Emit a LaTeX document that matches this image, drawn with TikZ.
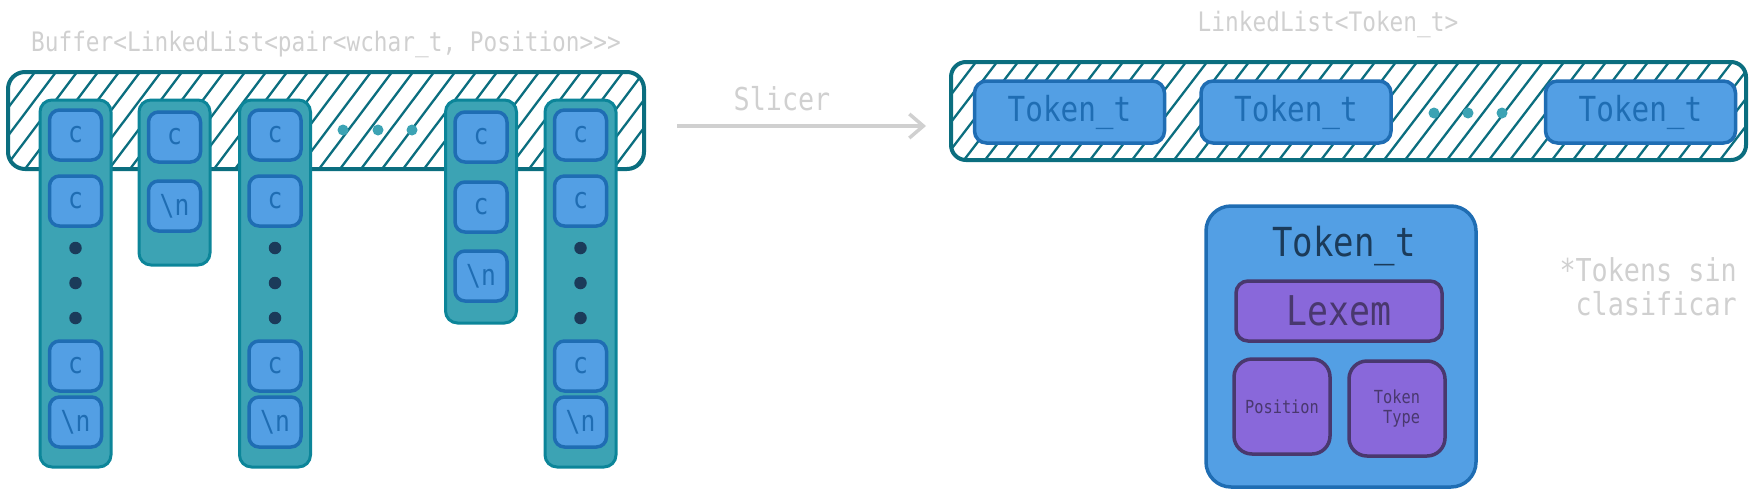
\documentclass[tikz,border=0pt]{standalone}
\usepackage{fontspec}
\newfontfamily\mono[FakeStretch=0.85]{DejaVu Sans Mono}
\usetikzlibrary{arrows.meta}
\definecolor{hatchc}{HTML}{0B6E7F}
\definecolor{colstroke}{HTML}{0C8599}
\definecolor{colfill}{HTML}{3CA3B4}
\definecolor{bfill}{HTML}{539FE4}
\definecolor{bstroke}{HTML}{1F6DB3}
\definecolor{grayt}{HTML}{D0D0D0}
\definecolor{navy}{HTML}{1B3B5A}
\definecolor{pfill}{HTML}{8968DA}
\definecolor{pstroke}{HTML}{49386E}
\newcommand{\fs}[1]{\mono\fontsize{#1}{#1}\selectfont}
\tikzset{
  hatchline/.style={draw=hatchc, line width=2.3pt},
  listbox/.style={draw=hatchc, line width=4pt, rounded corners=17pt},
  colbox/.style={draw=colstroke, fill=colfill, line width=3pt, rounded corners=12pt, minimum width=71pt, inner sep=0pt},
  cbox/.style={draw=bstroke, fill=bfill, line width=3.5pt, rounded corners=10pt, minimum width=52pt, minimum height=50pt, inner sep=0pt, text=bstroke, font=\fs{29}},
  navydot/.style={circle, fill=navy, inner sep=0pt, minimum size=12.5pt},
  tealdot/.style={circle, fill=colfill, inner sep=0pt, minimum size=11pt},
  tokbox/.style={draw=bstroke, fill=bfill, line width=3.5pt, rounded corners=12pt, minimum width=190pt, minimum height=62pt, inner sep=0pt, text=bstroke, font=\fs{34.5}},
  pbox/.style={draw=pstroke, fill=pfill, line width=3.5pt, inner sep=0pt, text=pstroke},
  graytext/.style={text=grayt, inner sep=0pt},
}
\begin{document}
\begin{tikzpicture}[x=1pt, y=-1pt]
\useasboundingbox (0,0) rectangle (1755,496);

% ---------- left list ----------
\node[graytext, font=\fs{26.8}] (buftitle) at (326,44) {Buffer<LinkedList<pair<wchar\_t, Position>>>};
\fill[white, rounded corners=17pt] (8,72) rectangle (644,169);
\begin{scope}
  \clip[rounded corners=17pt] (8,72) rectangle (644,169);
  \foreach \x in {-80,-59,...,660} \draw[hatchline] (\x,169) -- ++(73,-97);
\end{scope}
\draw[listbox] (8,72) rectangle (644,169);
\node[tealdot] (ld1) at (343,130) {};
\node[tealdot] (ld2) at (378,130) {};
\node[tealdot] (ld3) at (412,130) {};

% columns
\node[colbox, minimum height=367pt] (col1) at (75.5,283.5) {};
\node[colbox, minimum height=165pt] (col2) at (174.5,182.5) {};
\node[colbox, minimum height=367pt] (col3) at (275,283.5) {};
\node[colbox, minimum height=223pt] (col4) at (481,211.5) {};
\node[colbox, minimum height=367pt] (col5) at (580.5,283.5) {};

\foreach \cx/\nm in {75.5/a, 275/b, 580.5/c}{
  \node[cbox] (\nm1) at (\cx,135) {c};
  \node[cbox] (\nm2) at (\cx,201) {c};
  \node[navydot] (\nm d1) at (\cx,248) {};
  \node[navydot] (\nm d2) at (\cx,283) {};
  \node[navydot] (\nm d3) at (\cx,318) {};
  \node[cbox] (\nm3) at (\cx,366) {c};
  \node[cbox] (\nm4) at (\cx,422) {\textbackslash n};
}
\node[cbox] (d1) at (174.5,137) {c};
\node[cbox] (d2) at (174.5,206) {\textbackslash n};
\node[cbox] (e1) at (481,137) {c};
\node[cbox] (e2) at (481,207) {c};
\node[cbox] (e3) at (481,276) {\textbackslash n};

% ---------- arrow ----------
\coordinate (arrs) at (677,126);
\coordinate (arre) at (926,126);
\draw[draw=grayt, line width=3.5pt, -{Straight Barb[length=14pt, width=24pt, line width=3.5pt]}] (arrs) -- (arre);
\node[graytext, font=\fs{31.5}] (slicer) at (782,99) {Slicer};

% ---------- right list ----------
\node[graytext, font=\fs{26.8}] (lltitle) at (1328,24) {LinkedList<Token\_t>};
\fill[white, rounded corners=15pt] (951,62) rectangle (1746,160);
\begin{scope}
  \clip[rounded corners=15pt] (951,62) rectangle (1746,160);
  \foreach \x in {880,901,...,1760} \draw[hatchline] (\x,160) -- ++(75,-98);
\end{scope}
\draw[listbox, rounded corners=15pt] (951,62) rectangle (1746,160);
\node[tokbox] (t1) at (1069.5,112) {Token\_t};
\node[tokbox] (t2) at (1296,112) {Token\_t};
\node[tokbox] (t3) at (1640.5,112) {Token\_t};
\node[tealdot] (rd1) at (1434,113) {};
\node[tealdot] (rd2) at (1468,113) {};
\node[tealdot] (rd3) at (1502,113) {};

% ---------- Token_t structure ----------
\node[draw=bstroke, fill=bfill, line width=3.5pt, rounded corners=25pt, minimum width=270pt, minimum height=281pt, inner sep=0pt] (tok) at (1341,346.5) {};
\node[inner sep=0pt, text=navy, font=\fs{40}] (toktitle) at (1344,246) {Token\_t};
\node[pbox, rounded corners=12pt, minimum width=206pt, minimum height=60pt, font=\fs{41}] (lexem) at (1339,311) {Lexem};
\node[pbox, rounded corners=18pt, minimum width=96pt, minimum height=95pt, font=\fs{18}] (pos) at (1282,406.5) {Position};
\node[pbox, rounded corners=18pt, minimum width=96pt, minimum height=95pt, font=\fs{18}, align=right] (ttype) at (1397,408.5) {Token\\[2pt]Type};

\node[graytext, font=\fs{31.5}, align=right, anchor=east] (note) at (1737,286.5) {*Tokens sin\\[3pt]clasificar};
\end{tikzpicture}
\end{document}
